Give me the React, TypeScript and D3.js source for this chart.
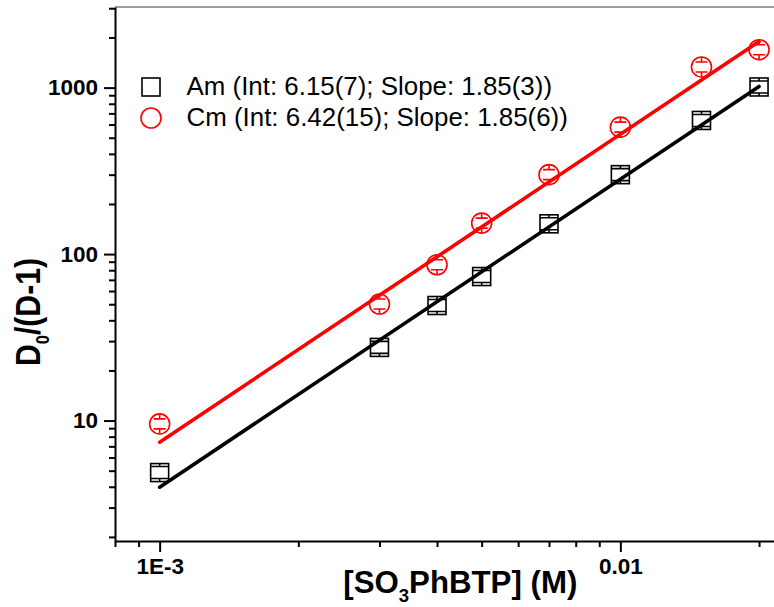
import React, { useEffect, useRef } from "react";
import * as d3 from "d3";

// [SO3PhBTP] concentration (M)
const conc = [0.001, 0.003, 0.004, 0.005, 0.007, 0.01, 0.015, 0.02];
// D0/(D-1) values
const amValues = [4.87, 27.5, 49.1, 73.3, 152, 300, 635, 1009];
const cmValues = [9.55, 50.1, 86.3, 153.5, 300, 579, 1331, 1690];
// linear fit end points
const fitConc = [0.001, 0.02];
const amFit = [3.98, 1016];
const cmFit = [7.41, 1892];

const xMajor = [0.001, 0.01];
const xMajorLabels = ["1E-3", "0.01"];
const xMinor = [0.0008, 0.0009, 0.002, 0.003, 0.004, 0.005, 0.006, 0.007, 0.008, 0.009, 0.02];
const yMajor = [10, 100, 1000];
const yMajorLabels = ["10", "100", "1000"];
const yMinor = [2, 3, 4, 5, 6, 7, 8, 9, 20, 30, 40, 50, 60, 70, 80, 90, 200, 300, 400, 500, 600, 700, 800, 900, 2000, 3000];

const legendLabels = [
  "Am (Int: 6.15(7); Slope: 1.85(3))",
  "Cm (Int: 6.42(15); Slope: 1.85(6))",
];

const FONT = "'Liberation Sans', Arial, sans-serif";

export default function App() {
  const svgRef = useRef<SVGSVGElement>(null);

  useEffect(() => {
    const w = 774;
    const h = 607;
    const svg = d3.select(svgRef.current).attr("width", w).attr("height", h);
    svg.selectAll("*").remove();

    const x = d3.scaleLog().domain([0.0008, 0.025]).range([115, 803.7]);
    const y = d3.scaleLog().domain([1.89, 3050]).range([541, 7]);

    // top frame line
    svg
      .append("line")
      .attr("x1", 115)
      .attr("x2", 810)
      .attr("y1", 7)
      .attr("y2", 7)
      .attr("stroke", "#7f7f7f")
      .attr("stroke-width", 1.5);

    // minor ticks
    svg
      .append("g")
      .attr("transform", "translate(0,541)")
      .call(d3.axisBottom(x).tickValues(xMinor).tickFormat(() => "").tickSize(6).tickSizeOuter(0))
      .call((g) => g.select(".domain").remove())
      .selectAll("line")
      .attr("stroke-width", 2);
    svg
      .append("g")
      .attr("transform", "translate(115,0)")
      .call(d3.axisLeft(y).tickValues(yMinor).tickFormat(() => "").tickSize(6).tickSizeOuter(0))
      .call((g) => g.select(".domain").remove())
      .selectAll("line")
      .attr("stroke-width", 2);

    // major axes
    const xAxis = svg
      .append("g")
      .attr("transform", "translate(0,541)")
      .call(
        d3
          .axisBottom(x)
          .tickValues(xMajor)
          .tickFormat((d, i) => xMajorLabels[i])
          .tickSize(11)
          .tickPadding(6)
          .tickSizeOuter(0)
      );
    const yAxis = svg
      .append("g")
      .attr("transform", "translate(115,0)")
      .call(
        d3
          .axisLeft(y)
          .tickValues(yMajor)
          .tickFormat((d, i) => yMajorLabels[i])
          .tickSize(11)
          .tickPadding(6)
          .tickSizeOuter(0)
      );
    [xAxis, yAxis].forEach((g) => {
      g.select(".domain").attr("stroke-width", 2);
      g.selectAll("line").attr("stroke-width", 2);
      g.selectAll("text")
        .attr("font-family", FONT)
        .attr("font-weight", "bold")
        .attr("font-size", 22.5)
        .attr("fill", "#000");
    });

    // fit lines
    const line = d3
      .line<number>()
      .x((d, i) => x(fitConc[i]))
      .y((d) => y(d));
    svg.append("path").attr("d", line(amFit)).attr("fill", "none").attr("stroke", "#000").attr("stroke-width", 3.6).attr("stroke-linecap", "round");
    svg.append("path").attr("d", line(cmFit)).attr("fill", "none").attr("stroke", "#ff0000").attr("stroke-width", 3.6).attr("stroke-linecap", "round");

    // Am squares with error bars
    const am = svg
      .append("g")
      .selectAll("g")
      .data(amValues)
      .join("g")
      .attr("transform", (d, i) => `translate(${x(conc[i])},${y(d)})`)
      .attr("stroke", "#000")
      .attr("stroke-width", 1.6)
      .attr("fill", "none");
    am.append("rect").attr("x", -9).attr("y", -9).attr("width", 18).attr("height", 18);
    am.append("path").attr("d", "M-9,-6H9M-9,6H9M0,-9V-6M0,6V9");

    // Cm circles with error bars
    const cm = svg
      .append("g")
      .selectAll("g")
      .data(cmValues)
      .join("g")
      .attr("transform", (d, i) => `translate(${x(conc[i])},${y(d)})`)
      .attr("stroke", "#ff0000")
      .attr("stroke-width", 1.6)
      .attr("fill", "none");
    cm.append("circle").attr("r", 10);
    cm.append("path").attr("d", "M-6,-5H6M-6,5H6M0,-10V-5M0,5V10");

    // legend
    const legend = svg.append("g");
    legend
      .append("rect")
      .attr("x", 142)
      .attr("y", 78)
      .attr("width", 18)
      .attr("height", 18)
      .attr("fill", "none")
      .attr("stroke", "#000")
      .attr("stroke-width", 1.6);
    legend
      .append("circle")
      .attr("cx", 151)
      .attr("cy", 118)
      .attr("r", 10)
      .attr("fill", "none")
      .attr("stroke", "#ff0000")
      .attr("stroke-width", 1.6);
    legend
      .selectAll("text")
      .data(legendLabels)
      .join("text")
      .attr("x", 186.5)
      .attr("y", (d, i) => 95 + i * 31)
      .attr("font-family", FONT)
      .attr("font-size", 25.9)
      .attr("fill", "#000")
      .text((d) => d);

    // x title
    const xt = svg
      .append("text")
      .attr("x", 460.3)
      .attr("y", 593)
      .attr("text-anchor", "middle")
      .attr("font-family", FONT)
      .attr("font-weight", "bold")
      .attr("font-size", 32)
      .attr("textLength", 234)
      .attr("lengthAdjust", "spacingAndGlyphs");
    xt.append("tspan").text("[SO");
    xt.append("tspan").attr("font-size", 19).attr("dy", 9).text("3");
    xt.append("tspan").attr("dy", -9).text("PhBTP] (M)");

    // y title
    const yt = svg
      .append("text")
      .attr("transform", "translate(39.5,312) rotate(-90)")
      .attr("text-anchor", "middle")
      .attr("font-family", FONT)
      .attr("font-weight", "bold")
      .attr("font-size", 35)
      .attr("textLength", 108)
      .attr("lengthAdjust", "spacingAndGlyphs");
    yt.append("tspan").text("D");
    yt.append("tspan").attr("font-size", 19).attr("dy", 9).text("0");
    yt.append("tspan").attr("dy", -9).text("/(D-1)");
  }, []);

  return (
    <div style={{ position: "absolute", left: 0, top: 0, background: "#fff" }}>
      <svg ref={svgRef} style={{ display: "block" }}></svg>
    </div>
  );
}
